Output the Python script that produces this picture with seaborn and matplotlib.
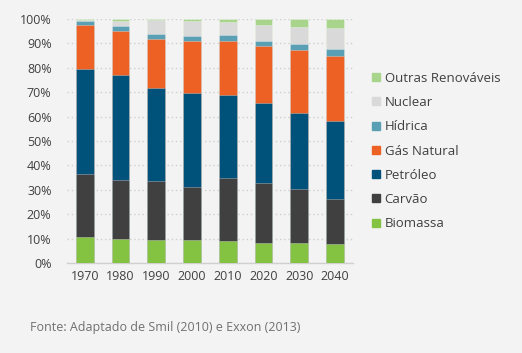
import matplotlib
matplotlib.use("Agg")
import matplotlib.pyplot as plt
import seaborn as sns
import pandas as pd
import numpy as np
from matplotlib.lines import Line2D

years = ["1970", "1980", "1990", "2000", "2010", "2020", "2030", "2040"]
biomassa = [10.8, 9.7, 9.6, 9.6, 9.1, 8.1, 8.1, 7.8]
carvao = [25.7, 24.3, 24.0, 21.7, 25.7, 24.7, 22.4, 18.5]
petroleo = [42.9, 43.1, 38.1, 38.4, 34.1, 32.8, 31.0, 31.9]
gas_natural = [18.3, 18.2, 20.3, 21.4, 22.3, 23.4, 25.7, 26.7]
hidrica = [1.6, 2.0, 2.0, 1.9, 2.1, 2.2, 2.4, 2.9]
nuclear = [0.3, 1.9, 5.6, 6.2, 5.6, 6.3, 7.2, 8.5]
outras = [0.4, 0.8, 0.4, 0.8, 1.1, 2.5, 3.2, 3.7]

series = ["Biomassa", "Carvão", "Petróleo", "Gás Natural", "Hídrica", "Nuclear", "Outras Renováveis"]
values = [biomassa, carvao, petroleo, gas_natural, hidrica, nuclear, outras]
colors = ["#84c341", "#404040", "#00527a", "#ee6125", "#5b9fb5", "#d9d9d9", "#a8d58b"]

bg = "#f3f3f3"
sns.set_theme(style="white")
plt.rcParams["font.family"] = ["Open Sans", "DejaVu Sans"]

fig = plt.figure(figsize=(5.22, 3.53), dpi=100, facecolor=bg)
ax = fig.add_axes([0.128, 0.255, 0.548, 0.691], facecolor=bg)

df = pd.DataFrame({s: v for s, v in zip(series, values)}, index=years)
cum = df.cumsum(axis=1)

for s, c in reversed(list(zip(series, colors))):
    d = pd.DataFrame({"year": years, "val": cum[s].values})
    sns.barplot(data=d, x="year", y="val", color=c, width=0.5, ax=ax,
                edgecolor=(1, 1, 1, 0.35), linewidth=0.6, saturation=1, zorder=3)

ax.set_xlim(-0.5, 7.5)
ax.set_ylim(0, 100)
ax.set_yticks(np.arange(0, 101, 10))
ax.set_yticklabels([f"{t}%" for t in range(0, 101, 10)])
ax.yaxis.grid(True, linestyle=(0, (1, 2)), color="#cfcfcf", linewidth=1, zorder=0)
ax.set_axisbelow(True)
ax.set_xlabel("")
ax.set_ylabel("")
for sp in ["top", "right", "left"]:
    ax.spines[sp].set_visible(False)
ax.spines["bottom"].set_color("#d0d0d0")
ax.spines["bottom"].set_linewidth(1)
ax.tick_params(axis="both", length=0, labelsize=9, labelcolor="#404040")
ax.tick_params(axis="x", pad=5)
ax.tick_params(axis="y", pad=11)

handles = [Line2D([0], [0], marker="s", linestyle="", markersize=6,
                  markerfacecolor=c, markeredgecolor=c) for c in colors]
leg = fig.legend(handles[::-1], series[::-1], loc="upper left",
                 bbox_to_anchor=(0.69, 0.83), frameon=False, fontsize=9.5,
                 handlelength=0.6, handletextpad=0.35, labelspacing=0.85,
                 labelcolor="#404040")

fig.text(30 / 522, 1 - 327 / 353, "Fonte: Adaptado de Smil (2010) e Exxon (2013)",
         fontsize=9, color="#707070", va="center", ha="left")

fig.savefig("out.png", dpi=100, facecolor=bg)
